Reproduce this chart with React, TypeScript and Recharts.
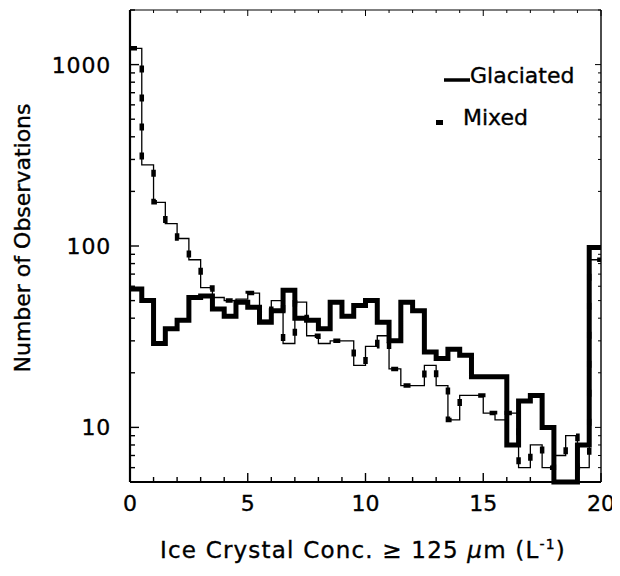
import React from "react";
import { LineChart, Line, XAxis, YAxis, Legend, Label } from "recharts";

// left edge of each 0.5 L^-1 bin, plus the closing edge at 20
const binStarts = [
  0, 0.5, 1, 1.5, 2, 2.5, 3, 3.5, 4, 4.5, 5, 5.5, 6, 6.5, 7, 7.5, 8, 8.5, 9, 9.5,
  10, 10.5, 11, 11.5, 12, 12.5, 13, 13.5, 14, 14.5, 15, 15.5, 16, 16.5, 17, 17.5,
  18, 18.5, 19, 19.5, 20,
];

// observations per bin
const glaciated = [
  58, 50, 29, 35, 39, 52, 53, 45, 41, 49, 46, 38, 44, 57, 40, 39, 35, 49, 41, 47,
  50, 38, 30, 49, 44, 26, 24, 27, 25, 19, 19, 19, 8, 14, 15, 10, 5, 5, 8, 98,
];
const mixed = [
  1230, 280, 174, 133, 110, 84, 59, 52, 50, 51, 55, 39, 50, 29, 49, 32, 29, 30, 30, 22,
  28, 32, 21, 17, 17, 22, 17, 11, 15, 15, 12, 11, 12, 6, 8, 6, 7, 9, 6, 84,
];

const xTicks = [0, 1, 2, 3, 4, 5, 6, 7, 8, 9, 10, 11, 12, 13, 14, 15, 16, 17, 18, 19, 20];
const xLabels = [0, 5, 10, 15, 20];
const yTicks = [
  5, 6, 7, 8, 9, 10, 20, 30, 40, 50, 60, 70, 80, 90, 100, 200, 300, 400, 500, 600, 700,
  800, 900, 1000, 2000,
];
const yLabels = [10, 100, 1000];

const data = binStarts.map((x, i) => ({
  x,
  glaciated: glaciated[Math.min(i, glaciated.length - 1)],
  mixed: mixed[Math.min(i, mixed.length - 1)],
}));

const FONT = "DejaVu Sans";
// slight outline so the lettering reads a little heavier than Book weight
const ink = { fill: "#000", stroke: "#000", strokeWidth: 0.35, fontFamily: FONT };

function BottomTick({ x, y, payload }: any) {
  const major = xLabels.includes(payload.value);
  return (
    <g>
      <line x1={x} x2={x} y1={y} y2={y - (major ? 9 : 5)} stroke="#000" strokeWidth={1.4} />
      {major && (
        <text x={x} y={y + 29} textAnchor="middle" fontSize={22} {...ink}>
          {payload.value}
        </text>
      )}
    </g>
  );
}

function TopTick({ x, y, payload }: any) {
  const major = xLabels.includes(payload.value);
  return <line x1={x} x2={x} y1={y} y2={y + (major ? 6 : 3)} stroke="#000" strokeWidth={1} />;
}

function LeftTick({ x, y, payload }: any) {
  const major = yLabels.includes(payload.value);
  return (
    <g>
      <line x1={x} x2={x + (major ? 9 : 5)} y1={y} y2={y} stroke="#000" strokeWidth={1.4} />
      {major && (
        <text x={x - 19} y={y + 8} textAnchor="end" fontSize={22} letterSpacing={0.8} {...ink}>
          {payload.value}
        </text>
      )}
    </g>
  );
}

function RightTick({ x, y, payload }: any) {
  const major = yLabels.includes(payload.value);
  return <line x1={x} x2={x - (major ? 6 : 3)} y1={y} y2={y} stroke="#000" strokeWidth={1} />;
}

function XTitle() {
  return (
    <text x={355} y={550} textAnchor="middle" fontSize={23} letterSpacing={1.2} {...ink}>
      Ice Crystal Conc. ≥ 125 <tspan fontStyle="italic">μ</tspan>m (L
      <tspan dy={-9} fontSize={14}>-1</tspan>
      <tspan dy={9}>)</tspan>
    </text>
  );
}

function YTitle() {
  return (
    <text x={22} y={230} transform="rotate(-90 22 230)" textAnchor="middle" fontSize={22} {...ink}>
      Number of Observations
    </text>
  );
}

function LegendBox() {
  return (
    <svg width={180} height={80} style={{ overflow: "visible" }}>
      <line x1={16} x2={42} y1={22} y2={22} stroke="#000" strokeWidth={3.5} />
      <text x={42} y={25} fontSize={22} {...ink}>
        Glaciated
      </text>
      <rect x={8} y={62} width={7} height={5} fill="#000" />
      <text x={35} y={67} fontSize={22} {...ink}>
        Mixed
      </text>
    </svg>
  );
}

export default function App() {
  return (
    <LineChart width={612} height={560} data={data} margin={{ top: 0, right: 0, bottom: 0, left: 0 }}>
      <XAxis
        xAxisId="top"
        orientation="top"
        dataKey="x"
        type="number"
        domain={[0, 20]}
        ticks={xTicks}
        interval={0}
        height={2}
        tick={TopTick}
        tickLine={false}
        tickSize={0}
        tickMargin={0}
        axisLine={{ stroke: "#000", strokeWidth: 1.2 }}
        allowDataOverflow
      />
      <XAxis
        dataKey="x"
        type="number"
        domain={[0, 20]}
        ticks={xTicks}
        interval={0}
        height={86}
        tick={BottomTick}
        tickLine={false}
        tickSize={0}
        tickMargin={0}
        axisLine={{ stroke: "#000", strokeWidth: 2 }}
      >
        <Label content={XTitle} />
      </XAxis>
      <YAxis
        type="number"
        scale="log"
        domain={[5, 2000]}
        ticks={yTicks}
        interval={0}
        width={122}
        tick={LeftTick}
        tickLine={false}
        tickSize={0}
        tickMargin={0}
        axisLine={{ stroke: "#000", strokeWidth: 2.2 }}
      >
        <Label content={YTitle} />
      </YAxis>
      <YAxis
        yAxisId="right"
        orientation="right"
        type="number"
        scale="log"
        domain={[5, 2000]}
        ticks={yTicks}
        interval={0}
        width={19}
        tick={RightTick}
        tickLine={false}
        tickSize={0}
        tickMargin={0}
        axisLine={{ stroke: "#000", strokeWidth: 1.4 }}
        allowDataOverflow
      />
      <Line
        key="mixed-line"
        type="stepAfter"
        dataKey="mixed"
        stroke="#000"
        strokeWidth={1.3}
        dot={false}
        isAnimationActive={false}
      />
      <Line
        key="mixed-dash"
        type="stepAfter"
        dataKey="mixed"
        stroke="#000"
        strokeWidth={4.5}
        strokeDasharray="7 22"
        dot={false}
        legendType="none"
        isAnimationActive={false}
      />
      <Line
        key="glaciated"
        type="stepAfter"
        dataKey="glaciated"
        stroke="#000"
        strokeWidth={5}
        strokeLinejoin="miter"
        dot={false}
        isAnimationActive={false}
      />
      <Legend
        layout="horizontal"
        verticalAlign="middle"
        align="center"
        content={LegendBox}
        wrapperStyle={{ left: 420, top: 50, width: 180, height: 80 }}
      />
    </LineChart>
  );
}
